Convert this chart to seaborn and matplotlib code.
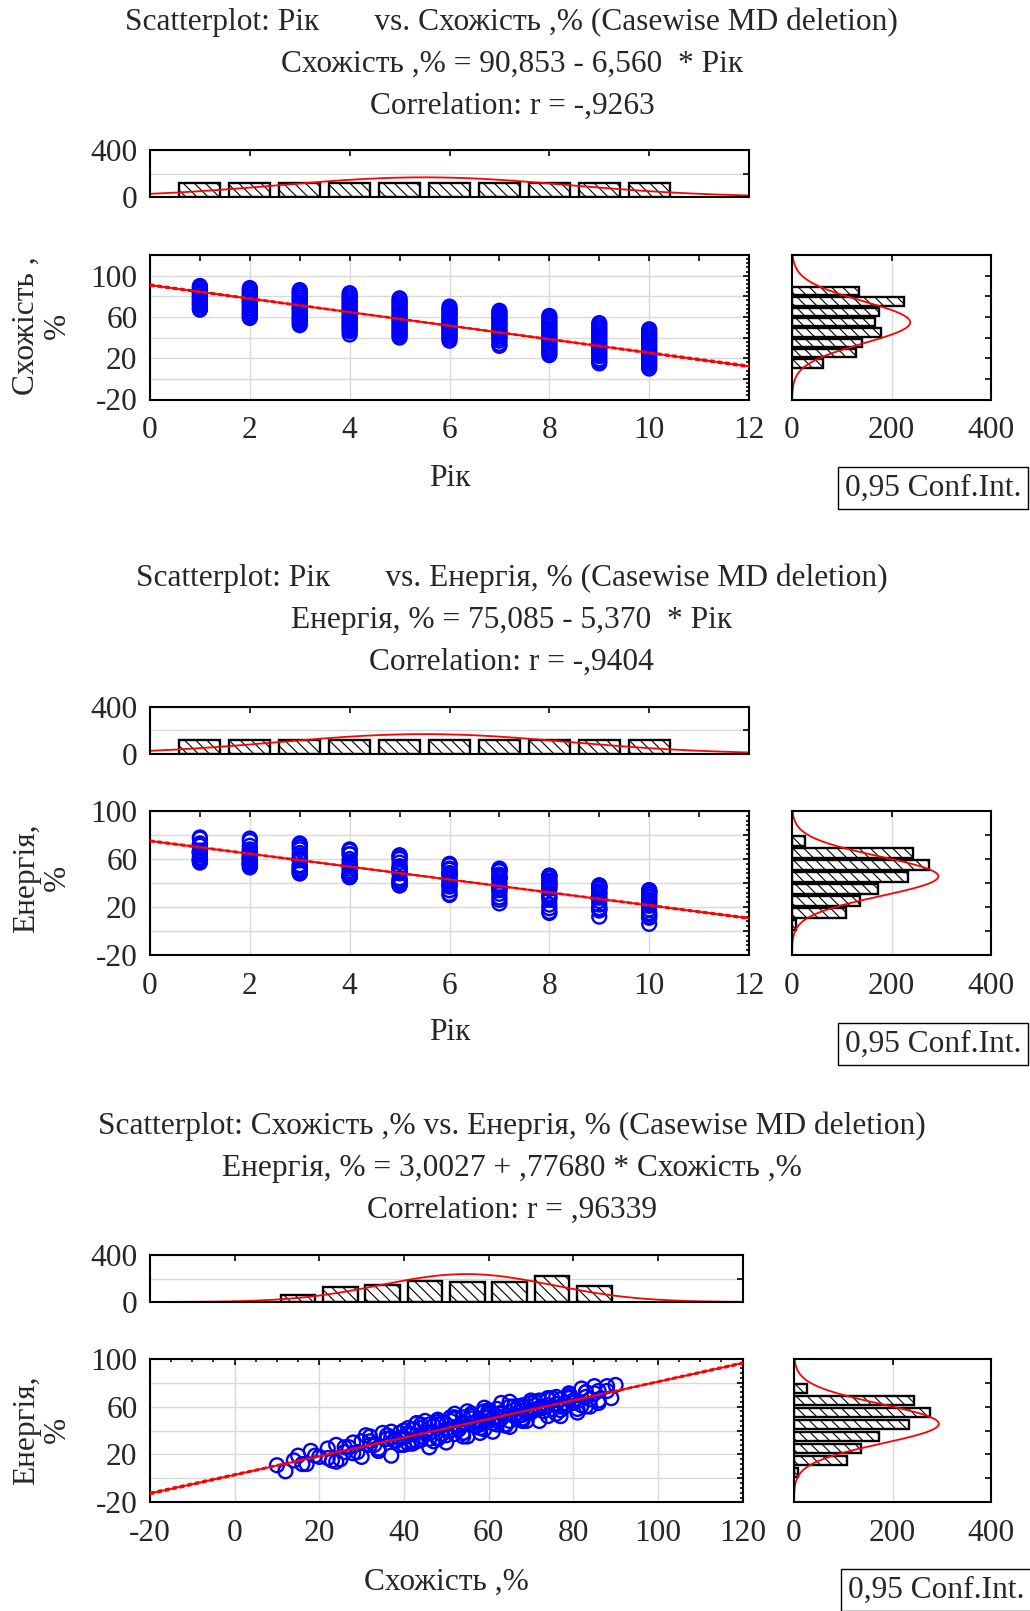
"""
Three Statistica-style scatterplots (Рік / Схожість / Енергія) with marginal
histograms, fitted line and 0.95 confidence band. Saves out.png.
"""

import numpy as np
import pandas as pd
import matplotlib
matplotlib.use("Agg")
import matplotlib.pyplot as plt
from matplotlib.ticker import MultipleLocator, FuncFormatter, NullFormatter
import seaborn as sns

# ── Data ─────────────────────────────────────────────────────────────────────
years = [1, 2, 3, 4, 5, 6, 7, 8, 9, 10]

# Схожість, % per year (one list per year)
sx_values = [
    [90, 89, 88, 86, 85, 84, 83, 82, 80, 79, 78, 77, 75, 74, 73, 72, 71, 69, 68, 67],
    [88, 86, 85, 83, 82, 80, 79, 77, 76, 74, 73, 71, 69, 68, 66, 65, 63, 62, 60, 59],
    [86, 84, 83, 81, 79, 77, 76, 74, 72, 70, 68, 67, 65, 63, 61, 59, 58, 56, 54, 52],
    [83, 81, 79, 77, 75, 73, 71, 69, 67, 65, 62, 60, 58, 56, 54, 52, 50, 48, 46, 43],
    [78, 76, 74, 72, 70, 68, 66, 64, 62, 60, 58, 56, 54, 52, 50, 48, 46, 44, 42, 40],
    [70, 68, 67, 65, 63, 62, 60, 58, 57, 55, 53, 51, 50, 48, 46, 45, 43, 41, 39, 37],
    [66, 64, 63, 61, 59, 58, 56, 54, 53, 51, 49, 47, 46, 44, 42, 41, 39, 37, 34, 32],
    [61, 59, 57, 55, 53, 51, 49, 47, 45, 43, 41, 39, 37, 35, 33, 31, 29, 27, 25, 23],
    [54, 52, 50, 48, 46, 44, 42, 40, 38, 36, 34, 32, 30, 28, 26, 24, 22, 19, 17, 15],
    [48, 46, 44, 42, 40, 38, 36, 34, 32, 30, 28, 26, 24, 22, 20, 18, 16, 14, 12, 10],
]
# Енергія, % per year, paired with sx_values
en_values = [
    [78, 67, 73, 63, 77, 66, 72, 61, 65, 71, 60, 66, 58, 66, 59, 65, 57, 58, 59, 60],
    [77, 65, 71, 60, 75, 63, 68, 57, 62, 67, 56, 61, 55, 61, 57, 60, 54, 58, 53, 56],
    [73, 60, 72, 55, 70, 60, 68, 52, 59, 65, 50, 60, 48, 63, 50, 59, 48, 54, 51, 54],
    [68, 58, 67, 52, 67, 60, 64, 48, 55, 64, 45, 55, 45, 54, 47, 50, 45, 47, 45, 46],
    [63, 54, 61, 48, 63, 53, 60, 44, 51, 57, 42, 52, 38, 51, 41, 49, 38, 42, 41, 40],
    [55, 48, 52, 43, 55, 48, 51, 38, 47, 56, 41, 48, 30, 45, 38, 48, 31, 37, 34, 39],
    [52, 45, 50, 39, 51, 47, 50, 35, 44, 51, 37, 44, 26, 45, 31, 42, 28, 34, 23, 35],
    [46, 41, 44, 35, 42, 40, 46, 31, 38, 46, 29, 38, 19, 38, 28, 36, 22, 26, 16, 15],
    [38, 37, 36, 33, 38, 35, 37, 28, 32, 36, 25, 31, 18, 30, 22, 28, 17, 19, 12, 19],
    [34, 33, 32, 29, 34, 31, 33, 23, 28, 31, 21, 26, 14, 25, 18, 23, 12, 15, 6, 11],
]

# marginal histogram counts
year_counts = [121, 121, 121, 121, 121, 121, 121, 120, 121, 121]
sx_bins = [15, 25, 35, 45, 55, 65, 75, 85]
sx_counts = [63, 128, 141, 178, 166, 174, 225, 134]
en_bins = [5, 15, 25, 35, 45, 55, 65, 75]
en_counts = [9, 108, 137, 173, 233, 276, 243, 27]

# summary statistics (for normal curves / confidence band)
N_OBS = 1209
YEAR_MEAN, YEAR_SD = 5.5, 2.88
SX_MEAN, SX_SD = 54.77, 20.3
EN_MEAN, EN_SD = 45.55, 16.4

# regression lines from the titles: (intercept, slope, residual sd)
FIT_SX_YEAR = (90.853, -6.560, 7.65)
FIT_EN_YEAR = (75.085, -5.370, 5.58)
FIT_EN_SX = (3.0027, 0.77680, 4.40)

rows = [(y, s, e) for y, ss, ee in zip(years, sx_values, en_values) for s, e in zip(ss, ee)]
df = pd.DataFrame(rows, columns=["year", "sx", "en"])

# ── Style ────────────────────────────────────────────────────────────────────
sns.set_theme(style="white")
plt.rcParams["font.family"] = ["Liberation Serif", "DejaVu Serif"]
plt.rcParams["axes.unicode_minus"] = False
plt.rcParams["hatch.linewidth"] = 0.8
plt.rcParams["hatch.color"] = "black"
FS = 22.6
GRID = "#d9d9d9"
HATCH = "\\\\\\"
W, H = 1030, 1611

fig = plt.figure(figsize=(W / 100, H / 100), dpi=100)


def rect(x0, y0, x1, y1):
    return [x0 / W, 1 - y1 / H, (x1 - x0) / W, (y1 - y0) / H]


def base_style(ax):
    for sp in ax.spines.values():
        sp.set_color("black")
        sp.set_linewidth(1.5)
    ax.tick_params(which="both", direction="in", top=True, right=True,
                   color="black", labelsize=FS, width=1.2)
    ax.tick_params(which="major", length=4.5)
    ax.tick_params(axis="x", which="major", pad=12)
    ax.tick_params(axis="y", which="major", pad=9)
    ax.tick_params(which="minor", length=2.2)
    ax.set_xlabel("")
    ax.set_ylabel("")


def every_other(start):
    return FuncFormatter(lambda v, p: f"{v:g}" if abs((v - start) % 40) < 1e-6 else "")


def normal_counts(x, mean, sd, bw):
    return N_OBS * bw / (sd * np.sqrt(2 * np.pi)) * np.exp(-0.5 * ((x - mean) / sd) ** 2)


def hist_bars(ax, centers, counts, bw, horizontal=False):
    hd = pd.DataFrame({"v": np.asarray(centers, float), "n": np.asarray(counts, float)})
    lo, hi = centers[0] - bw / 2, centers[-1] + bw / 2
    kw = dict(data=hd, weights="n", binwidth=bw, binrange=(lo, hi), shrink=0.82,
              color="white", edgecolor="black", linewidth=1.7, hatch=HATCH, alpha=1, ax=ax)
    if horizontal:
        sns.histplot(y="v", **kw)
    else:
        sns.histplot(x="v", **kw)


def fit_line(ax, fit, xlim, xmean, xsd):
    a, b, s = fit
    x = np.linspace(xlim[0], xlim[1], 200)
    yhat = a + b * x
    hw = 1.96 * s * np.sqrt(1 / N_OBS + (x - xmean) ** 2 / (N_OBS * xsd ** 2))
    ax.plot(x, yhat, color="red", lw=1.4, zorder=4)
    ax.plot(x, yhat + hw, color="red", lw=1.1, ls=(0, (3, 2)), zorder=4)
    ax.plot(x, yhat - hw, color="red", lw=1.1, ls=(0, (3, 2)), zorder=4)


def panel(cfg):
    xcol, ycol = cfg["x"], cfg["y"]
    xlim, ylim = cfg["xlim"], cfg["ylim"]

    # titles
    for txt, ty in zip(cfg["titles"], cfg["title_y"]):
        fig.text(0.497, 1 - ty / H, txt, ha="center", va="center", fontsize=FS)

    # top marginal histogram
    top = fig.add_axes(rect(*cfg["top"]))
    hist_bars(top, cfg["xbins"], cfg["xcounts"], cfg["xbw"])
    xx = np.linspace(xlim[0], xlim[1], 300)
    top.plot(xx, normal_counts(xx, cfg["xmean"], cfg["xsd"], cfg["xbw"]), color="red", lw=1.3)
    top.set_xlim(xlim)
    top.set_ylim(0, 400)
    top.xaxis.set_major_locator(MultipleLocator(cfg["xstep"]))
    top.xaxis.set_major_formatter(NullFormatter())
    top.yaxis.set_major_locator(MultipleLocator(200))
    top.yaxis.set_major_formatter(FuncFormatter(lambda v, p: f"{v:g}" if v in (0, 400) else ""))
    top.grid(True, axis="y", color=GRID, lw=1)
    top.set_axisbelow(True)
    base_style(top)

    # main scatter
    ax = fig.add_axes(rect(*cfg["main"]))
    ax.grid(True, which="major", color=GRID, lw=1)
    ax.set_axisbelow(True)
    sns.scatterplot(data=df, x=xcol, y=ycol, ax=ax, marker="o", s=100, zorder=3)
    pts = ax.collections[-1]
    pts.set_facecolor("none")
    pts.set_edgecolor("#0000ff")
    pts.set_linewidth(1.7)
    fit_line(ax, cfg["fit"], xlim, cfg["xmean"], cfg["xsd"])
    ax.set_xlim(xlim)
    ax.set_ylim(ylim)
    ax.xaxis.set_major_locator(MultipleLocator(cfg["xstep"]))
    ax.xaxis.set_minor_locator(MultipleLocator(cfg["xminor"]))
    ax.xaxis.set_major_formatter(FuncFormatter(lambda v, p: f"{v:g}"))
    ax.yaxis.set_major_locator(MultipleLocator(20))
    ax.yaxis.set_minor_locator(MultipleLocator(4))
    ax.yaxis.set_major_formatter(every_other(-20))
    base_style(ax)
    if cfg["xminor_long"]:
        ax.tick_params(axis="x", which="minor", length=4.5)

    # right marginal histogram
    rh = fig.add_axes(rect(*cfg["right"]))
    hist_bars(rh, cfg["ybins"], cfg["ycounts"], 10, horizontal=True)
    yy = np.linspace(ylim[0], ylim[1], 300)
    rh.plot(normal_counts(yy, cfg["ymean"], cfg["ysd"], 10), yy, color="red", lw=1.3)
    rh.set_xlim(0, 400)
    rh.set_ylim(ylim)
    rh.xaxis.set_major_locator(MultipleLocator(200))
    rh.xaxis.set_major_formatter(FuncFormatter(lambda v, p: f"{v:g}"))
    rh.yaxis.set_major_locator(MultipleLocator(20))
    rh.yaxis.set_major_formatter(NullFormatter())
    rh.grid(True, axis="x", color=GRID, lw=1)
    rh.set_axisbelow(True)
    base_style(rh)

    # axis labels and legend box
    lx, ly = cfg["ylabel_pos"]
    fig.text(lx / W, 1 - ly / H, cfg["ylabel"], rotation=90, ha="center", va="center",
             fontsize=FS, multialignment="center", linespacing=1.1)
    bx, by = cfg["xlabel_pos"]
    fig.text(bx / W, 1 - by / H, cfg["xlabel"], ha="center", va="center", fontsize=FS)
    cx, cy = cfg["box_pos"]
    fig.text(cx / W, 1 - cy / H, "0,95 Conf.Int.", ha="left", va="center", fontsize=FS,
             bbox=dict(boxstyle="square,pad=0.22", fc="white", ec="black", lw=1.0))


PANELS = [
    dict(x="year", y="sx", xlim=(0, 12), ylim=(-20, 120), xstep=2, xminor=1, xminor_long=True,
         titles=["Scatterplot: Рік       vs. Схожість ,% (Casewise MD deletion)",
                 "Схожість ,% = 90,853 - 6,560  * Рік",
                 "Correlation: r = -,9263"],
         title_y=[22, 64, 106],
         top=(150, 150, 749, 197), main=(150, 255, 749, 399.5), right=(792, 255, 991, 399.5),
         xbins=years, xcounts=year_counts, xbw=1, xmean=YEAR_MEAN, xsd=YEAR_SD,
         ybins=sx_bins, ycounts=sx_counts, ymean=SX_MEAN, ysd=SX_SD,
         fit=FIT_SX_YEAR, ylabel="Схожість ,\n%", ylabel_pos=(42, 326),
         xlabel="Рік", xlabel_pos=(450, 478), box_pos=(845, 488)),
    dict(x="year", y="en", xlim=(0, 12), ylim=(-20, 100), xstep=2, xminor=1, xminor_long=True,
         titles=["Scatterplot: Рік       vs. Енергія, % (Casewise MD deletion)",
                 "Енергія, % = 75,085 - 5,370  * Рік",
                 "Correlation: r = -,9404"],
         title_y=[578, 620, 662],
         top=(150, 706.5, 749, 754), main=(150, 811, 749, 955), right=(792, 811, 991, 955),
         xbins=years, xcounts=year_counts, xbw=1, xmean=YEAR_MEAN, xsd=YEAR_SD,
         ybins=en_bins, ycounts=en_counts, ymean=EN_MEAN, ysd=EN_SD,
         fit=FIT_EN_YEAR, ylabel="Енергія,\n%", ylabel_pos=(42, 878),
         xlabel="Рік", xlabel_pos=(450, 1033), box_pos=(845, 1044)),
    dict(x="sx", y="en", xlim=(-20, 120), ylim=(-20, 100), xstep=20, xminor=5, xminor_long=False,
         titles=["Scatterplot: Схожість ,% vs. Енергія, % (Casewise MD deletion)",
                 "Енергія, % = 3,0027 + ,77680 * Схожість ,%",
                 "Correlation: r = ,96339"],
         title_y=[1126.5, 1168.5, 1210],
         top=(150, 1255, 742.5, 1302), main=(150, 1358.6, 742.5, 1502.4),
         right=(794, 1358.6, 991, 1502.4),
         xbins=sx_bins, xcounts=sx_counts, xbw=10, xmean=SX_MEAN, xsd=SX_SD,
         ybins=en_bins, ycounts=en_counts, ymean=EN_MEAN, ysd=EN_SD,
         fit=FIT_EN_SX, ylabel="Енергія,\n%", ylabel_pos=(42, 1430),
         xlabel="Схожість ,%", xlabel_pos=(446, 1582), box_pos=(848, 1590)),
]

for cfg in PANELS:
    panel(cfg)

fig.savefig("out.png", dpi=100)
